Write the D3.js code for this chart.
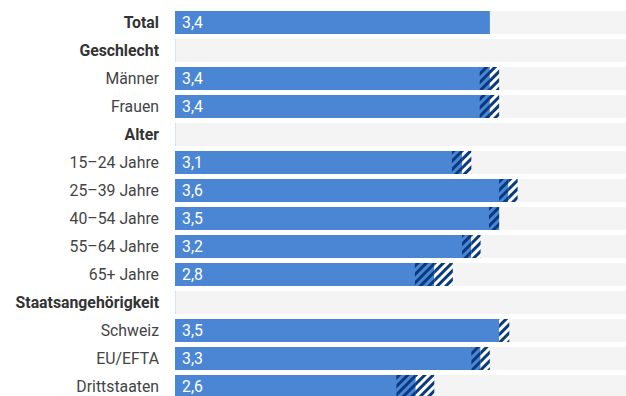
<!DOCTYPE html>
<html><head><meta charset="utf-8">
<script src="https://cdn.jsdelivr.net/npm/d3@7"></script>
<style>body{margin:0;background:#fff;} text{font-family:Roboto,"Noto Sans",sans-serif;}</style>
</head><body>
<svg id="chart" width="626" height="396"></svg>
<script>
const labels = ["Total","Geschlecht","Männer","Frauen","Alter","15–24 Jahre","25–39 Jahre","40–54 Jahre","55–64 Jahre","65+ Jahre","Staatsangehörigkeit","Schweiz","EU/EFTA","Drittstaaten"];
const isHeader = [true,true,false,false,true,false,false,false,false,false,true,false,false,false];
const values = [3.4,null,3.4,3.4,null,3.1,3.6,3.5,3.2,2.8,null,3.5,3.3,2.6];
const lower  = [null,null,3.29,3.29,null,2.99,3.5,3.39,3.1,2.59,null,3.5,3.2,2.39];
const upper  = [null,null,3.5,3.5,null,3.2,3.7,3.5,3.3,3.0,null,3.61,3.4,2.8];

const svg = d3.select("#chart");
const W = 626;
const x = d3.scaleLinear().domain([0, 4.87]).range([175, W]);
const y = d3.scaleBand().domain(labels).range([8.5, 8.5 + 28*labels.length]).paddingInner(5/28).paddingOuter(2.5/28);
const bh = y.bandwidth();

const defs = svg.append("defs");
const pat = defs.append("pattern").attr("id","hatch").attr("patternUnits","userSpaceOnUse")
  .attr("width",6).attr("height",6).attr("patternTransform","rotate(45)");
pat.append("rect").attr("x",0).attr("y",0).attr("width",3).attr("height",6).attr("fill","#0a3a7e");
const pat2 = defs.append("pattern").attr("id","hatchw").attr("patternUnits","userSpaceOnUse")
  .attr("width",6).attr("height",6).attr("patternTransform","rotate(45)");
pat2.append("rect").attr("x",0).attr("y",0).attr("width",6).attr("height",6).attr("fill","#ffffff");
pat2.append("rect").attr("x",0).attr("y",0).attr("width",3).attr("height",6).attr("fill","#0a3a7e");

const rows = svg.selectAll("g.row").data(labels).enter().append("g").attr("class","row");

rows.append("rect").attr("x", x(0)).attr("y", d => y(d)).attr("width", W - x(0)).attr("height", bh).attr("fill","#f4f4f4");

rows.append("text").attr("x", 159).attr("y", d => y(d) + bh/2).attr("dy","0.35em")
  .attr("text-anchor","end").attr("font-size",15.8)
  .attr("font-weight",(d,i)=> isHeader[i] ? "bold" : "normal")
  .attr("fill",(d,i)=> isHeader[i] ? "#333" : "#444")
  .text(d => d);

labels.forEach((lab,i) => {
  const g = svg.append("g");
  const yy = y(lab);
  if (values[i] === null) {
    g.append("rect").attr("x", x(0)).attr("y", yy).attr("width", 1).attr("height", bh).attr("fill","#d6e3f5");
    return;
  }
  g.append("rect").attr("x", x(0)).attr("y", yy).attr("width", x(values[i]) - x(0)).attr("height", bh).attr("fill","#4a86d4");
  if (lower[i] !== null && values[i] - lower[i] > 0.001) {
    g.append("rect").attr("x", x(lower[i])).attr("y", yy).attr("width", x(values[i]) - x(lower[i])).attr("height", bh).attr("fill","url(#hatch)");
  }
  if (upper[i] !== null && upper[i] - values[i] > 0.001) {
    g.append("rect").attr("x", x(values[i])).attr("y", yy).attr("width", x(upper[i]) - x(values[i])).attr("height", bh).attr("fill","url(#hatchw)");
  }
  g.append("text").attr("x", x(0) + 7).attr("y", yy + bh/2).attr("dy","0.35em")
    .attr("font-size",15.8).attr("fill","#fff").text(d3.format(".1f")(values[i]).replace(".", ","));
});
</script>
</body></html>
